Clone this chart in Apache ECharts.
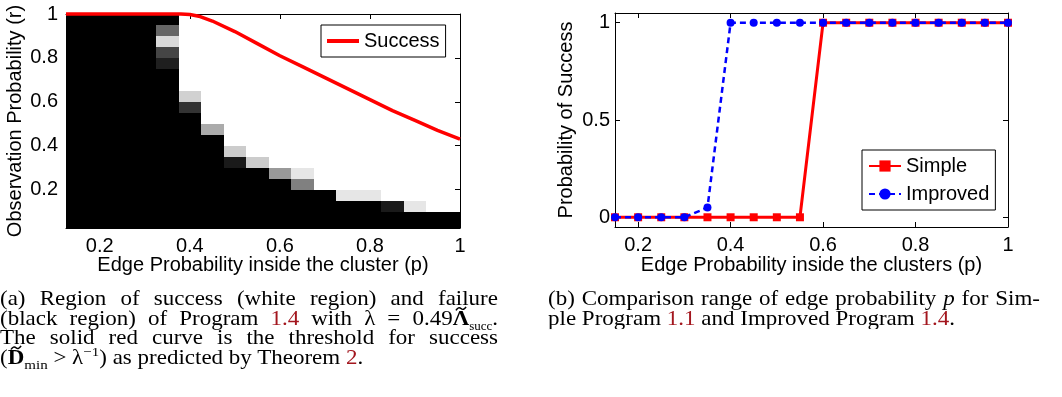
<!DOCTYPE html>
<html>
<head>
<meta charset="utf-8">
<script src="https://cdn.jsdelivr.net/npm/echarts@6/dist/echarts.min.js"></script>
<style>
  html, body { margin: 0; padding: 0; background: #fff; }
  #chart { position: absolute; left: 0; top: 0; width: 1062px; height: 397px; }
  .cap { position: absolute; font-family: "Liberation Serif", "Times New Roman", serif; font-size: 23px; color: #000;
         transform: scaleY(0.89); transform-origin: 0 0; }
  .cap div { line-height: 22px; height: 22px; }
  .j { text-align: justify; text-align-last: justify; }
  .ref { color: #a3161e; }
  sub, sup { line-height: 0; }
  .tl { position: relative; display: inline-block; line-height: 22px; }
  .tt { position: absolute; left: 50%; margin-left: -6px; top: -3px; width: 12px; height: 6px; }
</style>
</head>
<body>
<div id="chart"></div>
<div class="cap" style="left:0px; top:288.5px; width:498px;">
  <div class="j">(a) Region of success (white region) and failure</div>
  <div class="j">(black region) of Program <span class="ref">1.4</span> with &lambda; = 0.49<span class="tl"><b>&Lambda;</b><svg class="tt" viewBox="0 0 12 6"><path d="M1 5 Q3.5 0.5 6 3 T11 1" stroke="#000" stroke-width="1.6" fill="none"/></svg></span><sub style="font-size:13px">succ</sub>.</div>
  <div class="j">The solid red curve is the threshold for success</div>
  <div>(<span class="tl"><b>D</b><svg class="tt" viewBox="0 0 12 6"><path d="M1 5 Q3.5 0.5 6 3 T11 1" stroke="#000" stroke-width="1.6" fill="none"/></svg></span><sub style="font-size:15px">min</sub> &gt; &lambda;<sup style="font-size:15px">&minus;1</sup>) as predicted by Theorem <span class="ref">2</span>.</div>
</div>
<div class="cap" style="left:548px; top:288.5px; width:492px;">
  <div class="j">(b) Comparison range of edge probability <i>p</i> for Sim-</div>
  <div>ple Program <span class="ref">1.1</span> and Improved Program <span class="ref">1.4</span>.</div>
</div>
<script>
// ---------- data: left panel (region of success) ----------
const pCols = [0.15, 0.2, 0.25, 0.3, 0.35, 0.4, 0.45, 0.5, 0.55, 0.6, 0.65, 0.7, 0.75, 0.8, 0.85, 0.9, 0.95, 1.0];
const rRows = [0.975, 0.925, 0.875, 0.825, 0.775, 0.725, 0.675, 0.625, 0.575, 0.525,
               0.475, 0.425, 0.375, 0.325, 0.275, 0.225, 0.175, 0.125, 0.075, 0.025];
// success rate per cell (0 = black failure, 1 = white success), rows top to bottom
const successRate = [
  [0,0,0,0,0,   1,1,1,1,1,1,1,1,1,1,1,1,1],
  [0,0,0,0,0.4, 1,1,1,1,1,1,1,1,1,1,1,1,1],
  [0,0,0,0,0.85,1,1,1,1,1,1,1,1,1,1,1,1,1],
  [0,0,0,0,0.27,1,1,1,1,1,1,1,1,1,1,1,1,1],
  [0,0,0,0,0.12,1,1,1,1,1,1,1,1,1,1,1,1,1],
  [0,0,0,0,0,   1,1,1,1,1,1,1,1,1,1,1,1,1],
  [0,0,0,0,0,   1,1,1,1,1,1,1,1,1,1,1,1,1],
  [0,0,0,0,0,0.82,1,1,1,1,1,1,1,1,1,1,1,1],
  [0,0,0,0,0,0.2, 1,1,1,1,1,1,1,1,1,1,1,1],
  [0,0,0,0,0,0,   1,1,1,1,1,1,1,1,1,1,1,1],
  [0,0,0,0,0,0,0.67,1,1,1,1,1,1,1,1,1,1,1],
  [0,0,0,0,0,0,0,   1,1,1,1,1,1,1,1,1,1,1],
  [0,0,0,0,0,0,0,0.8,1,1,1,1,1,1,1,1,1,1],
  [0,0,0,0,0,0,0,0.1,0.8,1,1,1,1,1,1,1,1,1],
  [0,0,0,0,0,0,0,0,0,0.6,0.9,1,1,1,1,1,1,1],
  [0,0,0,0,0,0,0,0,0,0,0.5,1,1,1,1,1,1,1],
  [0,0,0,0,0,0,0,0,0,0,0,0,0.9,0.9,1,1,1,1],
  [0,0,0,0,0,0,0,0,0,0,0,0,0,0,0.1,0.9,1,1],
  [0,0,0,0,0,0,0,0,0,0,0,0,0,0,0,0,0,0],
  [0,0,0,0,0,0,0,0,0,0,0,0,0,0,0,0,0,0]
];
// predicted threshold curve
const curveP = [0.125, 0.2, 0.3, 0.38, 0.4, 0.42, 0.45, 0.5, 0.55, 0.6, 0.65, 0.7, 0.75, 0.8, 0.85, 0.9, 0.95, 1.0];
const curveR = [1, 1, 1, 1, 0.998, 0.99, 0.968, 0.92, 0.865, 0.81, 0.76, 0.71, 0.66, 0.61, 0.56, 0.515, 0.47, 0.43];
const leftTicksX = [0.2, 0.4, 0.6, 0.8, 1];
const leftTicksY = [0.2, 0.4, 0.6, 0.8, 1];

// ---------- data: right panel ----------
const pSweep = [0.15, 0.2, 0.25, 0.3, 0.35, 0.4, 0.45, 0.5, 0.55, 0.6, 0.65, 0.7, 0.75, 0.8, 0.85, 0.9, 0.95, 1.0];
const simpleRate   = [0, 0, 0, 0, 0,    0, 0, 0, 0, 1, 1, 1, 1, 1, 1, 1, 1, 1];
const improvedRate = [0, 0, 0, 0, 0.05, 1, 1, 1, 1, 1, 1, 1, 1, 1, 1, 1, 1, 1];
const rightTicksX = [0.2, 0.4, 0.6, 0.8, 1];
const rightTicksY = [0, 0.5, 1];

// ---------- build ----------
const FONT = '"Liberation Sans", Arial, sans-serif';
const CELL = 0.05;
const heatData = [];
rRows.forEach((r, i) => pCols.forEach((p, j) => heatData.push([p, r, successRate[i][j]])));

function axis(gridIndex, position, min, max, ticks, withLabels, name, nameGap, labelMargin) {
  const a = {
    type: 'value', gridIndex, position, min, max, z: 3,
    axisLine: { show: true, onZero: false, lineStyle: { color: '#000', width: 1 } },
    axisTick: { show: true, inside: true, length: 5, customValues: ticks, lineStyle: { color: '#000', width: 1 } },
    axisLabel: { show: withLabels, customValues: ticks, formatter: v => String(v),
                 color: '#000', fontSize: 20, fontFamily: FONT, margin: labelMargin || 8 },
    splitLine: { show: false }
  };
  if (name) {
    a.name = name; a.nameLocation = 'middle'; a.nameGap = nameGap; a.nameMoveOverlap = false;
    a.nameTextStyle = { color: '#000', fontSize: 20, fontFamily: FONT };
  }
  return a;
}

const legendBase = {
  orient: 'vertical', backgroundColor: '#fff',
  borderColor: '#000', borderWidth: 1, borderRadius: 0, padding: [6, 6, 6, 6],
  itemWidth: 32, itemGap: 8,
  textStyle: { color: '#000', fontSize: 20, fontFamily: FONT, lineHeight: 20 }
};

const chart = echarts.init(document.getElementById('chart'), null, { renderer: 'canvas' });
chart.setOption({
  animation: false,
  backgroundColor: '#fff',
  grid: [
    { left: 66, top: 14, width: 394, height: 214, containLabel: false, outerBoundsMode: 'none' },
    { left: 615, top: 13, width: 393, height: 214, containLabel: false, outerBoundsMode: 'none' }
  ],
  xAxis: [
    axis(0, 'bottom', 0.125, 1, leftTicksX, true, 'Edge Probability inside the cluster (p)', 27),
    axis(0, 'top', 0.125, 1, leftTicksX, false),
    axis(1, 'bottom', 0.15, 1, rightTicksX, true, 'Edge Probability inside the clusters (p)', 28),
    axis(1, 'top', 0.15, 1, rightTicksX, false)
  ],
  yAxis: [
    axis(0, 'left', 0.025, 1, leftTicksY, true, 'Observation Probability (r)', 41, 8),
    axis(0, 'right', 0.025, 1, leftTicksY, false),
    axis(1, 'left', -0.05, 1.05, rightTicksY, true, 'Probability of Success', 39, 5),
    axis(1, 'right', -0.05, 1.05, rightTicksY, false)
  ],
  legend: [
    Object.assign({}, legendBase, {
      data: [{ name: 'Success', icon: 'rect', itemStyle: { color: '#ff0000' } }],
      left: 321, top: 25, itemHeight: 4
    }),
    Object.assign({}, legendBase, {
      data: ['Simple', 'Improved'], left: 862, top: 150, itemHeight: 14
    })
  ],
  series: [
    {
      type: 'custom', name: 'region', xAxisIndex: 0, yAxisIndex: 0, z: 1,
      data: heatData, encode: { x: 0, y: 1 },
      renderItem: function (params, api) {
        const p = api.value(0), r = api.value(1), v = api.value(2);
        const a = api.coord([p - CELL / 2, r + CELL / 2]);
        const b = api.coord([p + CELL / 2, r - CELL / 2]);
        const cs = params.coordSys;
        const x0 = Math.max(Math.round(a[0]), Math.round(cs.x));
        const x1 = Math.min(Math.round(b[0]), Math.round(cs.x + cs.width));
        const y0 = Math.max(Math.round(a[1]), Math.round(cs.y));
        const y1 = Math.min(Math.round(b[1]), Math.round(cs.y + cs.height));
        if (x1 <= x0 || y1 <= y0) return null;
        const g = Math.round(v * 255);
        return { type: 'rect', shape: { x: x0, y: y0, width: x1 - x0, height: y1 - y0 },
                 style: { fill: 'rgb(' + g + ',' + g + ',' + g + ')' } };
      }
    },
    {
      type: 'line', name: 'Success', xAxisIndex: 0, yAxisIndex: 0, z: 4,
      data: curveP.map((p, i) => [p, curveR[i]]),
      showSymbol: false, symbol: 'none', clip: false,
      lineStyle: { color: '#ff0000', width: 3.5 }, itemStyle: { color: '#ff0000' }
    },
    {
      type: 'line', name: 'Simple', xAxisIndex: 2, yAxisIndex: 2, z: 4,
      data: pSweep.map((p, i) => [p, simpleRate[i]]),
      symbol: 'rect', symbolSize: 8, clip: false,
      lineStyle: { color: '#ff0000', width: 3 }, itemStyle: { color: '#ff0000' }
    },
    {
      type: 'line', name: 'Improved', xAxisIndex: 2, yAxisIndex: 2, z: 5,
      data: pSweep.map((p, i) => [p, improvedRate[i]]),
      symbol: 'circle', symbolSize: 8, clip: false,
      lineStyle: { color: '#0000ff', width: 2.5, type: [6, 4] }, itemStyle: { color: '#0000ff' }
    }
  ]
});
</script>
</body>
</html>
